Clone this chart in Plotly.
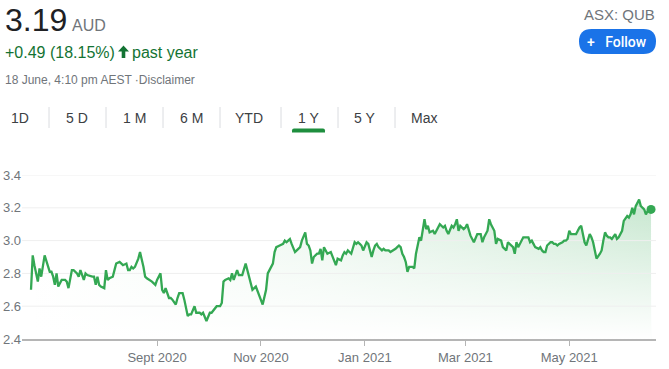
import plotly.graph_objects as go

# ---------------- data ----------------
dates = [
    "2020-06-19", "2020-06-20", "2020-06-21", "2020-06-23", "2020-06-24", "2020-06-25", "2020-06-27", "2020-06-28",
    "2020-06-30", "2020-07-01", "2020-07-02", "2020-07-03", "2020-07-04", "2020-07-05", "2020-07-07", "2020-07-09",
    "2020-07-10", "2020-07-11", "2020-07-13", "2020-07-14", "2020-07-16", "2020-07-17", "2020-07-18", "2020-07-20",
    "2020-07-21", "2020-07-22", "2020-07-24", "2020-07-25", "2020-07-26", "2020-07-27", "2020-07-28", "2020-07-29",
    "2020-07-30", "2020-08-01", "2020-08-02", "2020-08-03", "2020-08-04", "2020-08-06", "2020-08-07", "2020-08-08",
    "2020-08-10", "2020-08-11", "2020-08-12", "2020-08-14", "2020-08-15", "2020-08-16", "2020-08-17", "2020-08-18",
    "2020-08-19", "2020-08-21", "2020-08-22", "2020-08-24", "2020-08-25", "2020-08-26", "2020-08-28", "2020-08-29",
    "2020-08-31", "2020-09-01", "2020-09-03", "2020-09-04", "2020-09-05", "2020-09-06", "2020-09-08", "2020-09-09",
    "2020-09-10", "2020-09-12", "2020-09-13", "2020-09-14", "2020-09-16", "2020-09-17", "2020-09-19", "2020-09-20",
    "2020-09-21", "2020-09-23", "2020-09-24", "2020-09-26", "2020-09-27", "2020-09-28", "2020-09-30", "2020-10-02",
    "2020-10-03", "2020-10-05", "2020-10-06", "2020-10-08", "2020-10-09", "2020-10-10", "2020-10-11", "2020-10-13",
    "2020-10-14", "2020-10-15", "2020-10-16", "2020-10-18", "2020-10-19", "2020-10-20", "2020-10-21", "2020-10-23",
    "2020-10-24", "2020-10-25", "2020-10-26", "2020-10-27", "2020-10-29", "2020-10-30", "2020-10-31", "2020-11-01",
    "2020-11-02", "2020-11-04", "2020-11-05", "2020-11-06", "2020-11-08", "2020-11-09", "2020-11-10", "2020-11-12",
    "2020-11-14", "2020-11-15", "2020-11-16", "2020-11-17", "2020-11-18", "2020-11-19", "2020-11-21", "2020-11-22",
    "2020-11-23", "2020-11-24", "2020-11-25", "2020-11-27", "2020-11-28", "2020-11-29", "2020-11-30", "2020-12-01",
    "2020-12-02", "2020-12-04", "2020-12-05", "2020-12-06", "2020-12-07", "2020-12-08", "2020-12-09", "2020-12-10",
    "2020-12-12", "2020-12-13", "2020-12-14", "2020-12-15", "2020-12-16", "2020-12-18", "2020-12-19", "2020-12-20",
    "2020-12-21", "2020-12-22", "2020-12-24", "2020-12-25", "2020-12-26", "2020-12-27", "2020-12-28", "2020-12-29",
    "2020-12-30", "2020-12-31", "2021-01-02", "2021-01-03", "2021-01-04", "2021-01-05", "2021-01-06", "2021-01-07",
    "2021-01-08", "2021-01-09", "2021-01-11", "2021-01-12", "2021-01-13", "2021-01-14", "2021-01-15", "2021-01-16",
    "2021-01-18", "2021-01-19", "2021-01-20", "2021-01-21", "2021-01-22", "2021-01-23", "2021-01-24", "2021-01-25",
    "2021-01-26", "2021-01-27", "2021-01-29", "2021-01-30", "2021-01-31", "2021-02-01", "2021-02-02", "2021-02-03",
    "2021-02-04", "2021-02-05", "2021-02-06", "2021-02-07", "2021-02-08", "2021-02-10", "2021-02-11", "2021-02-12",
    "2021-02-13", "2021-02-14", "2021-02-16", "2021-02-17", "2021-02-18", "2021-02-19", "2021-02-21", "2021-02-22",
    "2021-02-23", "2021-02-24", "2021-02-25", "2021-02-26", "2021-02-28", "2021-03-01", "2021-03-02", "2021-03-03",
    "2021-03-04", "2021-03-06", "2021-03-07", "2021-03-08", "2021-03-10", "2021-03-11", "2021-03-12", "2021-03-13",
    "2021-03-14", "2021-03-15", "2021-03-16", "2021-03-18", "2021-03-19", "2021-03-20", "2021-03-22", "2021-03-23",
    "2021-03-24", "2021-03-25", "2021-03-26", "2021-03-27", "2021-03-29", "2021-03-30", "2021-03-31", "2021-04-01",
    "2021-04-02", "2021-04-03", "2021-04-04", "2021-04-05", "2021-04-07", "2021-04-08", "2021-04-09", "2021-04-10",
    "2021-04-11", "2021-04-13", "2021-04-14", "2021-04-15", "2021-04-16", "2021-04-17", "2021-04-18", "2021-04-20",
    "2021-04-21", "2021-04-22", "2021-04-23", "2021-04-24", "2021-04-25", "2021-04-27", "2021-04-28", "2021-04-29",
    "2021-04-30", "2021-05-01", "2021-05-02", "2021-05-04", "2021-05-05", "2021-05-06", "2021-05-07", "2021-05-08",
    "2021-05-09", "2021-05-10", "2021-05-11", "2021-05-13", "2021-05-14", "2021-05-15", "2021-05-16", "2021-05-17",
    "2021-05-19", "2021-05-20", "2021-05-21", "2021-05-22", "2021-05-23", "2021-05-24", "2021-05-25", "2021-05-26",
    "2021-05-28", "2021-05-29", "2021-05-30", "2021-05-31", "2021-06-01", "2021-06-02", "2021-06-04", "2021-06-05",
    "2021-06-06", "2021-06-07", "2021-06-08", "2021-06-09", "2021-06-10", "2021-06-11", "2021-06-12", "2021-06-13",
    "2021-06-14", "2021-06-15", "2021-06-16", "2021-06-18",
]

prices = [
    2.70, 2.91, 2.85, 2.75, 2.83, 2.78, 2.91, 2.88,
    2.81, 2.81, 2.78, 2.73, 2.80, 2.72, 2.76, 2.76,
    2.75, 2.71, 2.82, 2.82, 2.80, 2.78, 2.82, 2.76,
    2.80, 2.79, 2.78, 2.78, 2.78, 2.73, 2.78, 2.73,
    2.72, 2.71, 2.82, 2.76, 2.77, 2.78, 2.82, 2.86,
    2.87, 2.86, 2.85, 2.86, 2.82, 2.82, 2.84, 2.83,
    2.84, 2.89, 2.93, 2.84, 2.78, 2.77, 2.76, 2.75,
    2.73, 2.76, 2.80, 2.70, 2.68, 2.71, 2.65, 2.65,
    2.64, 2.61, 2.65, 2.68, 2.68, 2.64, 2.54, 2.55,
    2.55, 2.60, 2.56, 2.56, 2.55, 2.56, 2.51, 2.56,
    2.56, 2.59, 2.60, 2.60, 2.62, 2.75, 2.76, 2.77,
    2.76, 2.80, 2.76, 2.82, 2.79, 2.79, 2.79, 2.86,
    2.82, 2.78, 2.74, 2.70, 2.72, 2.69, 2.66, 2.63,
    2.61, 2.70, 2.80, 2.82, 2.86, 2.93, 2.96, 2.97,
    2.98, 3.00, 2.99, 3.00, 3.01, 2.98, 2.93, 2.94,
    2.95, 2.96, 3.00, 3.05, 2.98, 2.97, 2.94, 2.86,
    2.90, 2.92, 2.92, 2.95, 2.88, 2.96, 2.94, 2.92,
    2.93, 2.90, 2.88, 2.85, 2.89, 2.88, 2.91, 2.93,
    2.92, 2.94, 2.92, 2.95, 2.99, 2.98, 2.99, 2.98,
    2.97, 2.94, 2.99, 2.98, 2.94, 2.90, 2.94, 2.97,
    2.98, 2.96, 2.94, 2.95, 2.94, 2.94, 2.94, 2.93,
    2.94, 2.95, 2.96, 2.97, 2.96, 2.92, 2.90, 2.87,
    2.81, 2.84, 2.84, 2.83, 2.92, 2.98, 3.02, 3.00,
    3.08, 3.13, 3.07, 3.09, 3.05, 3.06, 3.04, 3.06,
    3.08, 3.10, 3.08, 3.09, 3.06, 3.04, 3.09, 3.08,
    3.10, 3.13, 3.06, 3.09, 3.07, 3.08, 3.10, 3.06,
    3.03, 2.99, 3.02, 3.04, 3.04, 2.99, 3.02, 3.04,
    3.06, 3.13, 3.10, 3.06, 2.98, 3.01, 3.00, 2.96,
    2.95, 2.94, 2.99, 2.98, 2.96, 2.92, 2.99, 2.96,
    2.98, 3.00, 3.02, 3.02, 3.02, 2.99, 3.00, 2.98,
    2.96, 2.95, 2.96, 2.94, 2.93, 2.93, 2.97, 2.99,
    2.99, 2.98, 2.98, 2.97, 2.98, 2.99, 3.00, 3.00,
    3.01, 3.06, 3.04, 3.04, 3.04, 3.06, 3.08, 3.09,
    3.04, 2.99, 2.97, 3.04, 3.02, 2.99, 2.94, 2.89,
    2.92, 2.94, 3.00, 3.05, 3.03, 3.02, 3.02, 3.01,
    3.04, 3.01, 3.02, 3.04, 3.06, 3.12, 3.15, 3.14,
    3.16, 3.20, 3.16, 3.21, 3.23, 3.25, 3.21, 3.20,
    3.19, 3.16, 3.18, 3.19,
]

x_tick_dates = ["2020-09-01", "2020-11-01", "2021-01-01", "2021-03-01", "2021-05-01"]
x_tick_labels = ["Sept 2020", "Nov 2020", "Jan 2021", "Mar 2021", "May 2021"]
y_tick_values = [2.4, 2.6, 2.8, 3.0, 3.2, 3.4]
y_tick_labels = ["2.4", "2.6", "2.8", "3.0", "3.2", "3.4"]

price_text = "3.19"
currency_text = "AUD"
change_text = "+0.49 (18.15%)"
period_text = "past year"
timestamp_text = "18 June, 4:10 pm AEST ·Disclaimer"
ticker_text = "ASX: QUB"
tabs = ["1D", "5 D", "1 M", "6 M", "YTD", "1 Y", "5 Y", "Max"]

# ---------------- styling / layout helpers ----------------
W, H = 669, 369
PL, PR, PT, PB = 22, 656, 175, 339          # plot area in pixels
x_range = ["2020-06-13 17:00", "2021-06-20 22:00"]
y_range = [2.4, 3.4]

GREEN = "#34a853"
DARK_GREEN = "#137333"
GRAY_TEXT = "#70757a"
FONT = "Arial, Liberation Sans, sans-serif"


def px(x):
    return (x - PL) / (PR - PL)


def py(y):
    return (PB - y) / (PB - PT)


def rounded_rect(x0, y0, x1, y1, r, top_only=False):
    rb = 0 if top_only else r
    return (f"M {px(x0 + r)} {py(y0)} L {px(x1 - r)} {py(y0)} "
            f"Q {px(x1)} {py(y0)} {px(x1)} {py(y0 + r)} "
            f"L {px(x1)} {py(y1 - rb)} "
            f"Q {px(x1)} {py(y1)} {px(x1 - rb)} {py(y1)} "
            f"L {px(x0 + rb)} {py(y1)} "
            f"Q {px(x0)} {py(y1)} {px(x0)} {py(y1 - rb)} "
            f"L {px(x0)} {py(y0 + r)} "
            f"Q {px(x0)} {py(y0)} {px(x0 + r)} {py(y0)} Z")


def polygon(points):
    return "M " + " L ".join(f"{px(a)} {py(b)}" for a, b in points) + " Z"


fig = go.Figure()

# green area, stronger towards the right
fig.add_trace(go.Scatter(
    x=dates, y=prices, mode="none", fill="tozeroy",
    fillgradient=dict(type="horizontal",
                      colorscale=[[0, "rgba(52,168,83,0.0)"], [0.45, "rgba(52,168,83,0.10)"],
                                  [1, "rgba(52,168,83,0.28)"]]),
    hoverinfo="skip", showlegend=False))

# white veil fading the area towards the bottom
fig.add_trace(go.Scatter(
    x=dates, y=prices, mode="none", fill="tozeroy",
    fillgradient=dict(type="vertical", start=2.4, stop=3.25,
                      colorscale=[[0, "rgba(255,255,255,1)"], [1, "rgba(255,255,255,0)"]]),
    hoverinfo="skip", showlegend=False))

# gridlines (drawn over the area, under the line)
for v in y_tick_values[1:]:
    fig.add_trace(go.Scatter(
        x=x_range, y=[v, v], mode="lines", line=dict(color="#efefef", width=1),
        hoverinfo="skip", showlegend=False, cliponaxis=False))

# price line
fig.add_trace(go.Scatter(
    x=dates, y=prices, mode="lines", line=dict(color=GREEN, width=2.3),
    hoverinfo="skip", showlegend=False))

# last-price dot
fig.add_trace(go.Scatter(
    x=[dates[-1]], y=[prices[-1]], mode="markers",
    marker=dict(color=GREEN, size=9), hoverinfo="skip", showlegend=False, cliponaxis=False))

annotations = [
    dict(text=price_text, x=px(3), y=py(20), xanchor="left", yanchor="middle",
         font=dict(size=32, color="#202124", family=FONT)),
    dict(text=currency_text, x=px(70), y=py(25), xanchor="left", yanchor="middle",
         font=dict(size=16, color=GRAY_TEXT, family=FONT)),
    dict(text=change_text, x=px(3), y=py(52), xanchor="left", yanchor="middle",
         font=dict(size=16, color=DARK_GREEN, family=FONT)),
    dict(text=period_text, x=px(130), y=py(52), xanchor="left", yanchor="middle",
         font=dict(size=16, color=DARK_GREEN, family=FONT)),
    dict(text=timestamp_text, x=px(3), y=py(80), xanchor="left", yanchor="middle",
         font=dict(size=12, color=GRAY_TEXT, family=FONT)),
    dict(text=ticker_text, x=px(657), y=py(14), xanchor="right", yanchor="middle",
         font=dict(size=15, color=GRAY_TEXT, family=FONT)),
    dict(text="+   Follow", x=px(617), y=py(42), xanchor="center", yanchor="middle",
         font=dict(size=14, color="white", family="Roboto, Arial, sans-serif", weight=500)),
]

tab_centers = [20, 77, 134, 191, 249, 308, 364, 424]
for name, cx in zip(tabs, tab_centers):
    annotations.append(dict(text=name, x=px(cx), y=py(118), xanchor="center", yanchor="middle",
                            font=dict(size=14, color="#3c4043", family=FONT)))

for a in annotations:
    a.update(xref="paper", yref="paper", showarrow=False)

shapes = [dict(type="path", xref="paper", yref="paper", path=rounded_rect(579, 29, 656, 54, 12.5),
               fillcolor="#1a73e8", line=dict(width=0), layer="below")]
# up arrow next to the change
shapes.append(dict(type="path", xref="paper", yref="paper",
                   path=polygon([(123.5, 45.5), (129, 51.5), (125.3, 51.5), (125.3, 58),
                                 (121.7, 58), (121.7, 51.5), (118, 51.5)]),
                   fillcolor=DARK_GREEN, line=dict(width=0)))
for sx in [49, 106, 163, 220, 281, 338, 395]:
    shapes.append(dict(type="line", xref="paper", yref="paper", x0=px(sx), x1=px(sx),
                       y0=py(107), y1=py(128), line=dict(color="#dadce0", width=1)))
shapes.append(dict(type="path", xref="paper", yref="paper",
                   path=rounded_rect(292, 128.5, 325, 132.5, 2, top_only=True),
                   fillcolor="#1e8e3e", line=dict(width=0)))

fig.update_layout(
    width=W, height=H, autosize=False,
    margin=dict(l=PL, r=W - PR, t=PT, b=H - PB, pad=0, autoexpand=False),
    paper_bgcolor="white", plot_bgcolor="white",
    annotations=annotations, shapes=shapes,
    xaxis=dict(type="date", range=x_range, showgrid=False, zeroline=False, automargin=False,
               showline=True, linecolor="#b5b5b5", linewidth=2,
               ticks="outside", ticklen=5, tickcolor="#b5b5b5", tickwidth=1,
               tickvals=x_tick_dates, ticktext=x_tick_labels,
               tickfont=dict(size=13, color=GRAY_TEXT, family=FONT)),
    yaxis=dict(range=y_range, showgrid=False, zeroline=False, showline=False, automargin=False,
               tickvals=y_tick_values, ticktext=y_tick_labels, ticks="",
               tickfont=dict(size=13, color=GRAY_TEXT, family=FONT)),
)

fig.write_html("out.html", config={"displayModeBar": False},
               post_script="document.body.style.margin='0px';")
